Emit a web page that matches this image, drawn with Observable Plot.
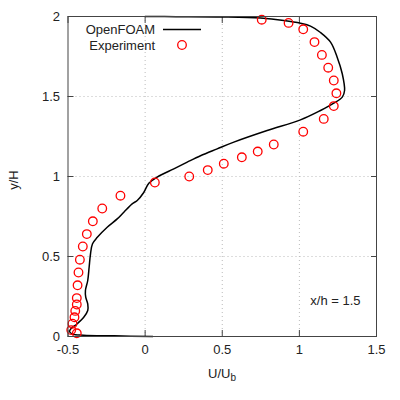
<!DOCTYPE html>
<html>
<head>
<meta charset="utf-8">
<script src="https://cdn.jsdelivr.net/npm/d3@7"></script>
<script src="https://cdn.jsdelivr.net/npm/@observablehq/plot@0.6"></script>
<style>
  html, body { margin: 0; padding: 0; background: #fff; }
  #chart svg { display: block; }
</style>
</head>
<body>
<div id="chart"></div>
<script>
// OpenFOAM profile (U/Ub, y/H)
const simU = [0.05, -0.2, -0.4, -0.47, -0.49, -0.48, -0.44, -0.398, -0.372, -0.372, -0.385, -0.387, -0.372, -0.363, -0.354, -0.341, -0.31, -0.246, -0.181, -0.138, -0.084, -0.051, -0.009, 0.024, 0.078, 0.186, 0.273, 0.359, 0.467, 0.575, 0.791, 1.007, 1.137, 1.223, 1.278, 1.293, 1.278, 1.245, 1.202, 1.137, 1.072, 1.007, 0.899, 0.748, 0.5, 0.2, 0.0];
const simY = [0.0, 0.004, 0.008, 0.015, 0.03, 0.05, 0.08, 0.12, 0.1625, 0.204, 0.246, 0.2875, 0.35, 0.433, 0.517, 0.58, 0.62, 0.683, 0.735, 0.777, 0.829, 0.85, 0.90, 0.958, 0.996, 1.048, 1.09, 1.13, 1.173, 1.215, 1.2875, 1.354, 1.4125, 1.458, 1.496, 1.5375, 1.642, 1.746, 1.84, 1.90, 1.94, 1.958, 1.975, 1.99, 1.997, 1.999, 2.0];
// Experiment
const expU = [0.756, 0.93, 1.025, 1.098, 1.146, 1.187, 1.223, 1.24, 1.223, 1.158, 1.025, 0.834, 0.73, 0.627, 0.51, 0.406, 0.286, 0.063, -0.16, -0.278, -0.339, -0.378, -0.404, -0.423, -0.432, -0.438, -0.443, -0.443, -0.453, -0.458, -0.471, -0.479, -0.443];
const expY = [1.98, 1.96, 1.92, 1.84, 1.76, 1.68, 1.60, 1.52, 1.44, 1.36, 1.28, 1.20, 1.156, 1.12, 1.08, 1.04, 1.00, 0.9625, 0.88, 0.80, 0.72, 0.64, 0.5625, 0.48, 0.40, 0.32, 0.24, 0.20, 0.16, 0.12, 0.08, 0.04, 0.02];
const xTicks = [-0.5, 0, 0.5, 1, 1.5];
const yTicks = [0, 0.5, 1, 1.5, 2];
const xGrid = [0, 0.5, 1];
const yGrid = [0.5, 1, 1.5];

const sim = simU.map((u, i) => ({u, y: simY[i]}));
const exp = expU.map((u, i) => ({u, y: expY[i]}));
const fmt = d => String(d);
const FONT = "Liberation Sans, Arial, sans-serif";

const chart = Plot.plot({
  width: 400,
  height: 400,
  marginLeft: 67.5,
  marginRight: 24,
  marginTop: 16,
  marginBottom: 64,
  style: {fontFamily: FONT, fontSize: "13px", color: "#222", background: "#fff"},
  x: {domain: [-0.5, 1.5]},
  y: {domain: [0, 2]},
  marks: [
    Plot.gridX(xGrid, {stroke: "#bbb", strokeOpacity: 1, strokeDasharray: "1,3"}),
    Plot.gridY(yGrid, {stroke: "#bbb", strokeOpacity: 1, strokeDasharray: "1,3"}),
    Plot.axisX(xTicks, {anchor: "bottom", tickSize: -6, tickPadding: 14, tickFormat: fmt, label: null, fontSize: 13, stroke: "#444"}),
    Plot.axisX(xTicks, {anchor: "top", tickSize: -6, tickFormat: () => "", label: null, stroke: "#444"}),
    Plot.axisY(yTicks, {anchor: "left", tickSize: -6, tickPadding: 14, tickFormat: fmt, label: null, fontSize: 13, stroke: "#444"}),
    Plot.axisY(yTicks, {anchor: "right", tickSize: -6, tickFormat: () => "", label: null, stroke: "#444"}),
    Plot.line(sim, {x: "u", y: "y", stroke: "#000", strokeWidth: 1.5, curve: "catmull-rom"}),
    Plot.dot(exp, {x: "u", y: "y", r: 4.3, stroke: "#ff0000", strokeWidth: 1.3, fill: "none"}),
    Plot.frame({stroke: "#444", strokeWidth: 1}),
    Plot.text(["x/h = 1.5"], {frameAnchor: "bottom-right", dx: -16, dy: -32, textAnchor: "end", fontSize: 13, fill: "#222"})
  ]
});

const svg = d3.select(chart);
// Legend
const lg = svg.append("g").attr("font-family", FONT).attr("font-size", 13).attr("fill", "#222");
lg.append("text").attr("x", 155).attr("y", 33.5).attr("text-anchor", "end").text("OpenFOAM");
lg.append("line").attr("x1", 163).attr("x2", 201).attr("y1", 29.5).attr("y2", 29.5).attr("stroke", "#000").attr("stroke-width", 1.5);
lg.append("text").attr("x", 155).attr("y", 49.5).attr("text-anchor", "end").text("Experiment");
lg.append("circle").attr("cx", 182).attr("cy", 45).attr("r", 4.3).attr("fill", "none").attr("stroke", "#ff0000").attr("stroke-width", 1.3);
// Axis labels
const xl = svg.append("text").attr("x", 222).attr("y", 378).attr("text-anchor", "middle")
  .attr("font-family", FONT).attr("font-size", 13).attr("fill", "#222");
xl.append("tspan").text("U/U");
xl.append("tspan").attr("font-size", 10).attr("dy", 3).text("b");
svg.append("text").attr("transform", "translate(18,180) rotate(-90)").attr("text-anchor", "middle")
  .attr("font-family", FONT).attr("font-size", 13).attr("fill", "#222").text("y/H");

document.getElementById("chart").appendChild(chart);
</script>
</body>
</html>
